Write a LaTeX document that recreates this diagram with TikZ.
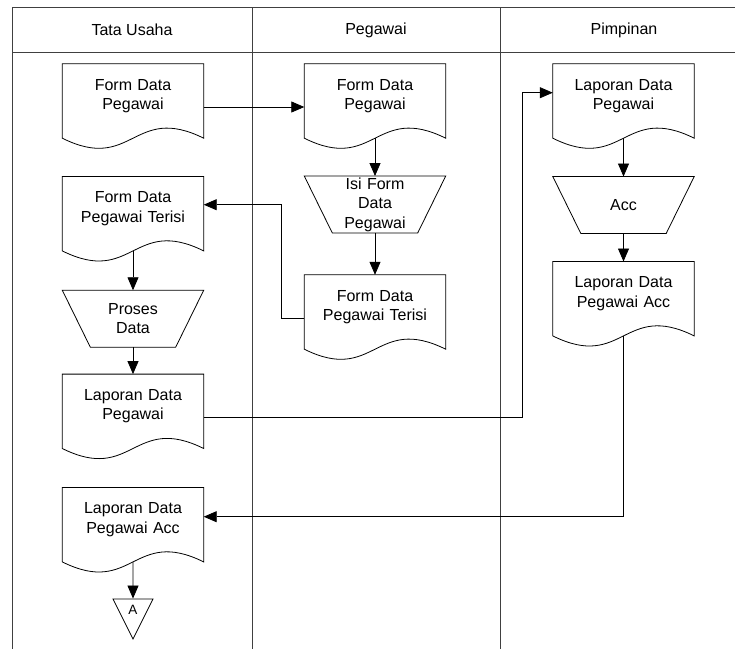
\documentclass[tikz,border=0pt]{standalone}
\usepackage{fontspec}
\setmainfont{Liberation Sans}
\usetikzlibrary{arrows.meta}
\usetikzlibrary{shapes.geometric}

\begin{document}
\begin{tikzpicture}[x=1pt, y=-1pt, >={Triangle[length=13pt,width=11pt]}]
\tikzset{
  lane/.style     = {draw=black!75, line width=0.9pt},
  lanetitle/.style = {font=\fontsize{16}{19.5}\selectfont},
  doc/.style      = {shape=rectangle, anchor=center,
                     minimum width=141pt, minimum height=64pt,
                     text width=138pt, align=center, inner sep=0pt,
                     font=\fontsize{16}{19.5}\selectfont},
  manual/.style   = {doc, minimum height=56.5pt},
  offpage/.style  = {isosceles triangle, isosceles triangle stretches,
                     shape border rotate=-90, draw, line width=0.8pt,
                     minimum width=40pt, minimum height=40pt,
                     inner sep=1pt, font=\fontsize{13.5}{16}\selectfont},
  flow/.style     = {->, line width=0.8pt}
}
\useasboundingbox (0,0) rectangle (735,649);

% swimlanes
\draw[lane] (12.7,7.3) -- (735,7.3);
\draw[lane] (12.7,52) -- (735,52);
\foreach \x in {12.7,252,500}
  \draw[lane] (\x,7.3) -- (\x,649);
\node[lanetitle] (hTU) at (132,30)   {Tata Usaha};
\node[lanetitle] (hPG) at (376,30)   {Pegawai};
\node[lanetitle] (hPP) at (624,30)   {Pimpinan};

% Tata Usaha
\node[doc]    (tu1) at (133,96)    {Form Data\\Pegawai};
\node[doc]    (tu2) at (133,208.7) {Form Data\\Pegawai Terisi};
\node[manual] (proses) at (133,318.7) {Proses\\Data};
\node[doc]    (tu3) at (133,406.3) {Laporan Data\\Pegawai};
\node[doc]    (tu4) at (133,519.7) {Laporan Data\\Pegawai Acc};
\node[offpage, anchor=apex] (conA) at (133,640) {A};

% Pegawai
\node[doc]    (pg1) at (375,96)    {Form Data\\Pegawai};
\node[manual] (isi) at (375,204.5) {Isi Form\\Data\\Pegawai};
\node[doc]    (pg3) at (375,307)   {Form Data\\Pegawai Terisi};

% Pimpinan
\node[doc]    (pp1) at (623.5,96)    {Laporan Data\\Pegawai};
\node[manual] (acc) at (623.5,205)   {Acc};
\node[doc]    (pp3) at (623.5,293.7) {Laporan Data\\Pegawai Acc};

% document outlines
\foreach \n in {tu1,tu2,tu3,tu4,pg1,pg3,pp1,pp3}
  \draw[line width=0.8pt] (\n.north west) -- (\n.north east)
    -- ([yshift=-10pt]\n.south east)
    .. controls +(-70.5pt,35pt) and +(70.5pt,-35pt) .. ([yshift=-10pt]\n.south west)
    -- cycle;
% manual operations
\foreach \n in {proses,isi,acc}
  \draw[line width=0.8pt] (\n.north west) -- (\n.north east)
    -- ([xshift=-28pt]\n.south east) -- ([xshift=28pt]\n.south west) -- cycle;

% flows
\draw[flow] ([yshift=-11pt]tu1.east) -- ([yshift=-11pt]pg1.west);
\foreach \a/\b in {tu2/proses, tu4/conA, pg1/isi, pp1/acc}
  \draw[flow] ([yshift=-10pt]\a.south) -- (\b);
\foreach \a/\b in {proses/tu3, isi/pg3, acc/pp3}
  \draw[flow] (\a.south) -- (\b.north);
\draw[flow] ([yshift=-11pt]pg3.west) -- ++(-23.3,0) |- ([yshift=4pt]tu2.east);
\draw[flow] ([yshift=-11pt]tu3.east) -- ++(318.8,0) |- ([yshift=3.3pt]pp1.west);
\draw[flow] ([yshift=-10pt]pp3.south) |- ([yshift=3pt]tu4.east);
\end{tikzpicture}
\end{document}
